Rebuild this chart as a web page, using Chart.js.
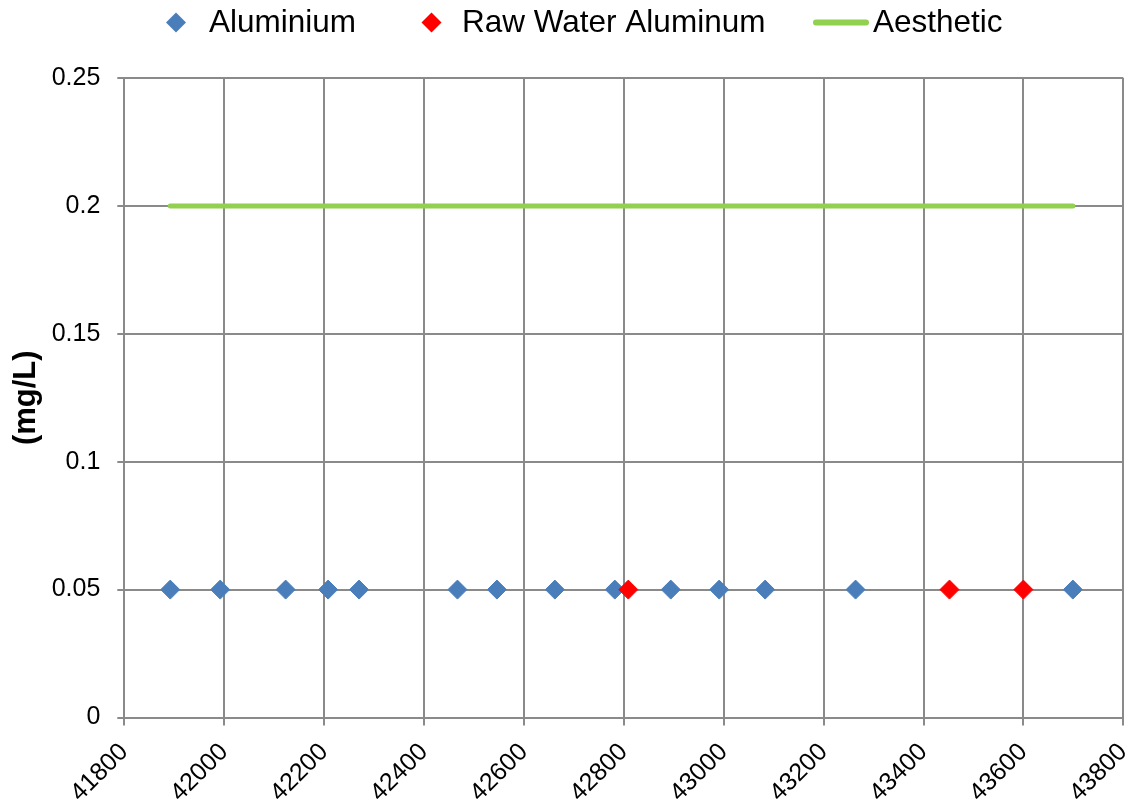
<!DOCTYPE html>
<html>
<head>
<meta charset="utf-8">
<script src="https://cdn.jsdelivr.net/npm/chart.js@4"></script>
<style>
  html, body { margin: 0; padding: 0; background: #ffffff; }
  canvas { display: block; }
</style>
</head>
<body>
<canvas id="chart" width="1134" height="807"></canvas>
<script>
// Sample dates (Excel serial day numbers) and measured concentrations (mg/L)
const aluminiumDates = [41892, 41992, 42123, 42208, 42270, 42467, 42546, 42662, 42782, 42894, 42991, 43083, 43264, 43699];
const aluminiumValues = [0.05, 0.05, 0.05, 0.05, 0.05, 0.05, 0.05, 0.05, 0.05, 0.05, 0.05, 0.05, 0.05, 0.05];
const rawWaterDates = [42809, 43452, 43600];
const rawWaterValues = [0.05, 0.05, 0.05];
// Aesthetic guideline across the sampling period
const aestheticDates = [41892, 43699];
const aestheticValues = [0.2, 0.2];

const seriesNames = ['Aluminium', 'Raw Water Aluminum', 'Aesthetic'];
const xTickValues = [41800, 42000, 42200, 42400, 42600, 42800, 43000, 43200, 43400, 43600, 43800];
const yTickValues = [0, 0.05, 0.1, 0.15, 0.2, 0.25];
const yTickLabels = ['0', '0.05', '0.1', '0.15', '0.2', '0.25'];
const yAxisTitle = '(mg/L)';

const FONT = "'Liberation Sans', Arial, sans-serif";
const GRID = '#8a8a8a';

const toPoints = (xs, ys) => xs.map((x, i) => ({ x: x, y: ys[i] }));

// Legend row along the top, drawn from the dataset styles
const topLegend = {
  id: 'topLegend',
  afterDraw(chart) {
    const ctx = chart.ctx;
    const slots = [166, 421.5, 813];
    const textGap = [43, 40.5, 60];
    const cy = 22.5;
    ctx.save();
    ctx.font = '31.5px ' + FONT;
    ctx.textBaseline = 'alphabetic';
    ctx.textAlign = 'left';
    chart.data.datasets.forEach((ds, i) => {
      const x = slots[i];
      if (ds.showLine) {
        ctx.strokeStyle = ds.borderColor;
        ctx.lineWidth = 6;
        ctx.lineCap = 'round';
        ctx.beginPath();
        ctx.moveTo(x + 3, cy);
        ctx.lineTo(x + 53, cy);
        ctx.stroke();
      } else {
        ctx.fillStyle = ds.backgroundColor;
        ctx.beginPath();
        ctx.moveTo(x, cy);
        ctx.lineTo(x + 10, cy - 10);
        ctx.lineTo(x + 20, cy);
        ctx.lineTo(x + 10, cy + 10);
        ctx.closePath();
        ctx.fill();
      }
      ctx.fillStyle = '#000000';
      ctx.fillText(ds.label, x + textGap[i], 32);
    });
    ctx.restore();
  }
};

new Chart(document.getElementById('chart'), {
  type: 'scatter',
  data: {
    datasets: [
      {
        label: seriesNames[0],
        data: toPoints(aluminiumDates, aluminiumValues),
        pointStyle: 'rectRot',
        pointRadius: 9.5,
        pointHoverRadius: 9.5,
        backgroundColor: '#4a7ebb',
        borderColor: '#4a7ebb',
        borderWidth: 1,
        order: 0
      },
      {
        label: seriesNames[1],
        data: toPoints(rawWaterDates, rawWaterValues),
        pointStyle: 'rectRot',
        pointRadius: 9.5,
        pointHoverRadius: 9.5,
        backgroundColor: '#ff0000',
        borderColor: '#ff0000',
        borderWidth: 1,
        order: -1
      },
      {
        label: seriesNames[2],
        data: toPoints(aestheticDates, aestheticValues),
        showLine: true,
        pointRadius: 0,
        pointHoverRadius: 0,
        borderColor: '#92d050',
        backgroundColor: '#92d050',
        borderWidth: 5,
        borderCapStyle: 'round',
        order: 1
      }
    ]
  },
  options: {
    responsive: false,
    animation: false,
    devicePixelRatio: 1,
    events: [],
    layout: { padding: { top: 78, right: 10.7, bottom: 0, left: 0 } },
    plugins: {
      legend: { display: false },
      tooltip: { enabled: false }
    },
    scales: {
      x: {
        type: 'linear',
        position: 'bottom',
        min: 41800,
        max: 43800,
        afterBuildTicks: (scale) => { scale.ticks = xTickValues.map(v => ({ value: v })); },
        afterFit: (scale) => {
          scale.height = 89.5;
          scale.paddingLeft = 0;
          scale.paddingRight = 0;
        },
        ticks: {
          autoSkip: false,
          minRotation: 45,
          maxRotation: 45,
          padding: 12,
          color: '#000000',
          font: { family: FONT, size: 25 },
          callback: (value) => String(value)
        },
        grid: { color: GRID, lineWidth: 2, drawTicks: true, tickLength: 8, tickColor: GRID },
        border: { color: GRID, width: 2 }
      },
      y: {
        type: 'linear',
        min: 0,
        max: 0.25,
        afterBuildTicks: (scale) => { scale.ticks = yTickValues.map(v => ({ value: v })); },
        afterFit: (scale) => { scale.width = 124.3; },
        ticks: {
          padding: 17,
          color: '#000000',
          font: { family: FONT, size: 25 },
          callback: (value, index) => yTickLabels[index]
        },
        grid: { color: GRID, lineWidth: 2, drawTicks: true, tickLength: 7, tickColor: GRID },
        border: { color: GRID, width: 2 },
        title: {
          display: true,
          text: yAxisTitle,
          color: '#000000',
          font: { family: FONT, size: 31, weight: 'bold' },
          padding: { top: 8, bottom: 0 }
        }
      }
    }
  },
  plugins: [topLegend]
});
</script>
</body>
</html>
